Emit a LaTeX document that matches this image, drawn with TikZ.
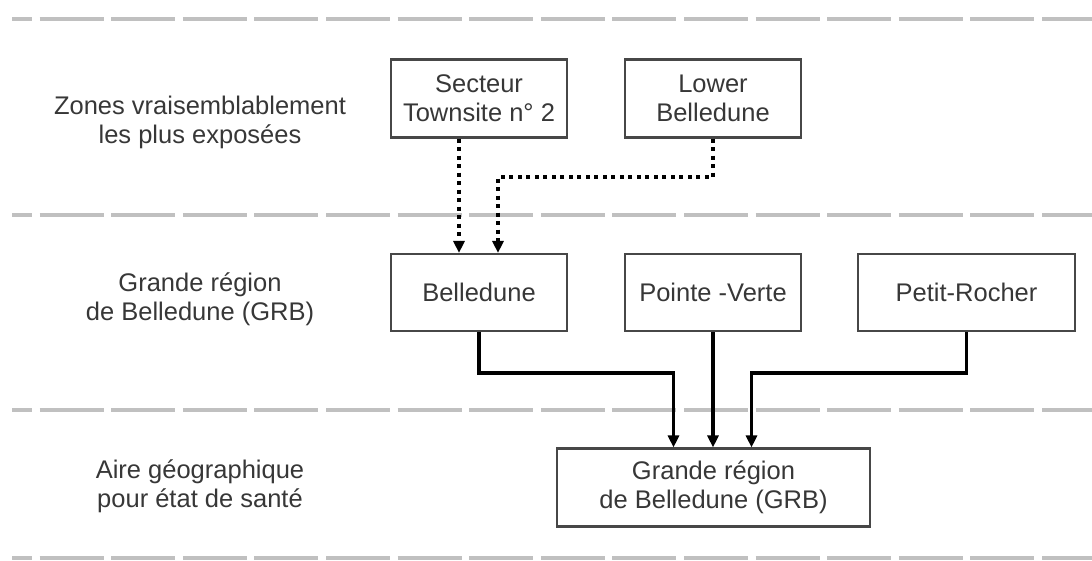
\documentclass[tikz,border=0pt]{standalone}
\usepackage{fontspec}
\setmainfont{Liberation Sans}
\usetikzlibrary{arrows.meta}
\definecolor{sepgray}{RGB}{192,192,192}
\definecolor{txtgray}{RGB}{55,55,55}

\begin{document}
\begin{tikzpicture}[x=1pt,y=-1pt]
\tikzstyle{every node}=[font=\fontsize{25.5}{29}\selectfont, text=txtgray, align=center, inner sep=0pt]
\tikzstyle{zone}=[draw=black!72, line width=2.1pt, minimum height=78pt, minimum width=176pt]
\tikzstyle{sep}=[sepgray, line width=4pt, dash pattern=on 64pt off 7.6pt, dash phase=44pt]
\tikzstyle{link}=[line width=3.6pt, -{Triangle[width=11pt,length=12pt]}]
\tikzstyle{dots}=[line width=4pt, dash pattern=on 4pt off 4.5pt, -{Triangle[width=11pt,length=12pt]}]
\useasboundingbox (0,0) rectangle (1092,561);
% separators
\draw[sep] (12,19) -- (1092,19);
\draw[sep] (12,215) -- (1092,215);
\draw[sep] (12,410) -- (1092,410);
\draw[sep] (12,558) -- (1092,558);
% row labels
\node (l1) at (200,122) {Zones vraisemblablement\\les plus exposées};
\node (l2) at (200,299) {Grande région\\de Belledune (GRB)};
\node (l3) at (200,486) {Aire géographique\\pour état de santé};
% boxes
\node (sect) [zone] at (479,98.5) {Secteur\\Townsite n° 2};
\node (lower) [zone] at (713,98.5) {Lower\\Belledune};
\node (belle) [zone, minimum height=77pt] at (479,292.5) {Belledune};
\node (pointe) [zone, minimum height=77pt] at (713,292.5) {Pointe -Verte};
\node (petit) [zone, minimum height=77pt, minimum width=217pt] at (966.5,292.5) {Petit-Rocher};
\node (grb) [zone, minimum width=313pt] at (713.5,487.5) {Grande région\\de Belledune (GRB)};
% links
\draw[dots] ([xshift=-20pt]sect.south) -- ([xshift=-20pt]belle.north);
\draw[dots] (lower.south) -- ++(0,38) -| ([xshift=19pt]belle.north);
\draw[link] (belle.south) -- ++(0,41) -| ([xshift=-40pt]grb.north);
\draw[link] (pointe.south) -- (pointe.south |- grb.north);
\draw[link] (petit.south) -- ++(0,41) -| ([xshift=38pt]grb.north);
\end{tikzpicture}
\end{document}
